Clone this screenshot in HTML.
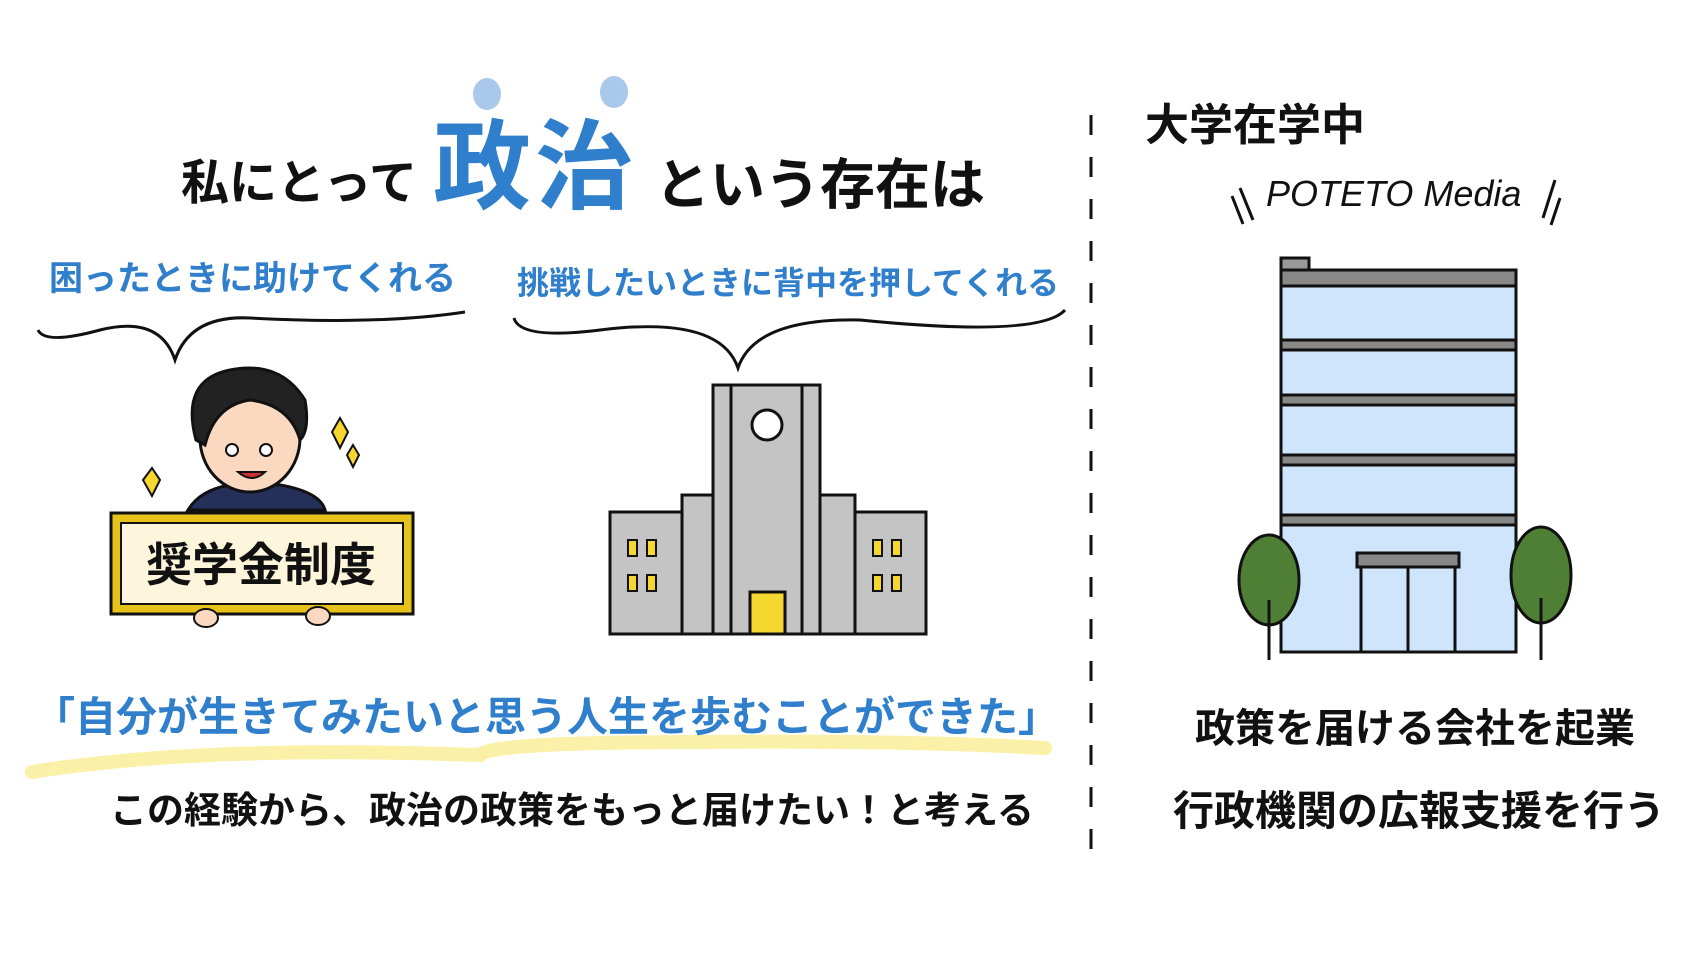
<!DOCTYPE html>
<html><head><meta charset="utf-8"><style>
body{margin:0;width:1705px;height:959px;background:#fff;overflow:hidden;position:relative;font-family:"Liberation Sans","Noto Sans CJK JP",sans-serif}
.t{position:absolute;white-space:nowrap;line-height:1;font-weight:700}
</style></head><body>
<svg width="1705" height="959" style="position:absolute;left:0;top:0">
<ellipse cx="487" cy="94" rx="14" ry="16" fill="#a9c8ea"/>
<ellipse cx="614" cy="92" rx="14" ry="16" fill="#a9c8ea"/>
<line x1="1091" y1="115" x2="1091" y2="871" stroke="#111" stroke-width="3" stroke-dasharray="20 22"/>
<path d="M1240 188 L1253 220 M1232 196 L1243 224" stroke="#111" stroke-width="3"/>
<path d="M1555 180 L1543 218 M1560 198 L1551 225" stroke="#111" stroke-width="3"/>
<path d="M38 330 Q45 345 100 330 Q160 315 175 360 Q190 315 250 318 Q380 325 465 312" fill="none" stroke="#111" stroke-width="3"/>
<path d="M514 318 Q520 340 600 330 Q720 315 738 368 Q755 318 860 320 Q1040 338 1065 310" fill="none" stroke="#111" stroke-width="3"/>
<path d="M32 772 Q200 745 480 755 Q490 742 700 742 Q900 740 1045 748" fill="none" stroke="#fbf0a8" stroke-width="14" stroke-linecap="round"/>
<path d="M188 510 Q200 490 230 485 L280 485 Q320 492 325 510 Z" fill="#24305a" stroke="#111" stroke-width="3"/>
<ellipse cx="250" cy="438" rx="50" ry="54" fill="#fbd9c0" stroke="#111" stroke-width="3"/>
<path d="M196 440 Q180 380 230 370 Q280 360 305 400 Q310 430 300 440 Q290 405 250 400 Q215 405 205 445 Z" fill="#222" stroke="#111" stroke-width="3"/>
<circle cx="232" cy="450" r="6" fill="#fff" stroke="#111" stroke-width="2"/><circle cx="266" cy="450" r="6" fill="#fff" stroke="#111" stroke-width="2"/>
<path d="M238 472 Q252 484 265 472 Z" fill="#c33" stroke="#111" stroke-width="2"/>
<path d="M152 468 L160 480 L152 496 L143 480 Z M340 418 L348 432 L340 448 L332 432 Z M353 445 L359 455 L353 467 L347 455 Z" fill="#f6d730" stroke="#111" stroke-width="2"/>
<rect x="111" y="513" width="302" height="101" fill="#e6c21a" stroke="#111" stroke-width="3"/>
<rect x="121" y="523" width="282" height="81" fill="#fdf6dc" stroke="#111" stroke-width="2"/>
<ellipse cx="206" cy="618" rx="12" ry="9" fill="#fbd9c0" stroke="#111" stroke-width="2"/>
<ellipse cx="318" cy="616" rx="12" ry="9" fill="#fbd9c0" stroke="#111" stroke-width="2"/>
<g stroke="#111" stroke-width="3" fill="#c4c4c4">
<rect x="610" y="512" width="316" height="122"/>
<rect x="682" y="495" width="173" height="139"/>
<rect x="713" y="385" width="107" height="249"/>
<rect x="713" y="385" width="18" height="249"/><rect x="802" y="385" width="18" height="249"/>
<circle cx="767" cy="425" r="15" fill="#fff"/>
<rect x="750" y="592" width="35" height="42" fill="#f6d730"/>
<g fill="#f6d730" stroke-width="2">
<rect x="628" y="540" width="9" height="16"/><rect x="647" y="540" width="9" height="16"/><rect x="628" y="575" width="9" height="16"/><rect x="647" y="575" width="9" height="16"/>
<rect x="873" y="540" width="9" height="16"/><rect x="892" y="540" width="9" height="16"/><rect x="873" y="575" width="9" height="16"/><rect x="892" y="575" width="9" height="16"/>
</g></g>
<g stroke="#111" stroke-width="3" transform="translate(-9,0)">
<rect x="1290" y="258" width="28" height="14" fill="#999"/>
<rect x="1290" y="270" width="235" height="382" fill="#cfe5fb"/>
<g fill="#888"><rect x="1290" y="270" width="235" height="16"/><rect x="1290" y="340" width="235" height="10"/><rect x="1290" y="395" width="235" height="10"/><rect x="1290" y="455" width="235" height="10"/><rect x="1290" y="515" width="235" height="10"/><rect x="1366" y="553" width="102" height="14"/></g>
<rect x="1370" y="567" width="94" height="85" fill="#cfe5fb"/><line x1="1417" y1="567" x2="1417" y2="652"/>
<ellipse cx="1278" cy="580" rx="30" ry="45" fill="#4f7f35"/><line x1="1278" y1="600" x2="1278" y2="660"/>
<ellipse cx="1550" cy="575" rx="30" ry="48" fill="#4f7f35"/><line x1="1550" y1="598" x2="1550" y2="660"/>
</g>
</svg>
<div class="t" style="left:181px;top:160px;font-size:48px;color:#111">私にとって</div>
<div class="t" style="left:433px;top:118px;font-size:98px;color:#2f7fcc;letter-spacing:4px">政治</div>
<div class="t" style="left:655px;top:158px;font-size:55px;color:#111">という存在は</div>
<div class="t" style="left:1145px;top:104px;font-size:44px;color:#111">大学在学中</div>
<div class="t" style="left:1266px;top:176px;font-size:36px;color:#111;font-style:italic;font-weight:400">POTETO Media</div>
<div class="t" style="left:49px;top:262px;font-size:34px;color:#2f7fcc">困ったときに助けてくれる</div>
<div class="t" style="left:517px;top:267px;font-size:32px;color:#2f7fcc">挑戦したいときに背中を押してくれる</div>
<div class="t" style="left:146px;top:542px;font-size:46px;color:#111">奨学金制度</div>
<div class="t" style="left:34px;top:697px;font-size:41px;color:#2f7fcc">「自分が生きてみたいと思う人生を歩むことができた」</div>
<div class="t" style="left:110px;top:792px;font-size:37px;color:#111">この経験から、政治の政策をもっと届けたい！と考える</div>
<div class="t" style="left:1195px;top:709px;font-size:40px;color:#111">政策を届ける会社を起業</div>
<div class="t" style="left:1173px;top:791px;font-size:41px;color:#111">行政機関の広報支援を行う</div>
</body></html>
